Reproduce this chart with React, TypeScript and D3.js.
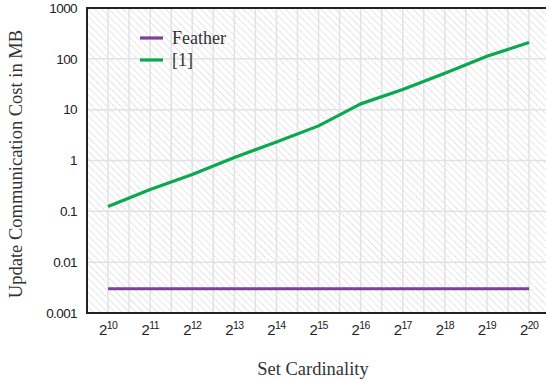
import React from "react";
import * as d3 from "d3";

const exponents = [10, 11, 12, 13, 14, 15, 16, 17, 18, 19, 20];
const featherValues = [0.003, 0.003, 0.003, 0.003, 0.003, 0.003, 0.003, 0.003, 0.003, 0.003, 0.003];
const refValues = [0.125, 0.27, 0.53, 1.15, 2.3, 4.8, 13, 25, 52, 112, 210];
const yTicks = [0.001, 0.01, 0.1, 1, 10, 100, 1000];
const yTickLabels = ["0.001", "0.01", "0.1", "1", "10", "100", "1000"];
const seriesNames = ["Feather", "[1]"];
const seriesColors = ["#7d3f98", "#0aa84f"];

const W = 546, H = 381;
const left = 87, top = 8, bottom = 313, right = 580;

export default function App() {
  const x = d3.scaleLinear().domain([9.5, 9.5 + (right - left) / 42.1]).range([left, right]);
  const y = d3.scaleLog().domain([0.001, 1000]).range([bottom, top]);
  const line = d3.line<number>().x((_, i) => x(exponents[i])).y((v) => y(v));
  const vGrid = d3.range(10, 21.5, 0.5);
  const series = [featherValues, refValues];
  return (
    <div style={{ position: "absolute", left: 0, top: 0, width: W, height: H, overflow: "hidden" }}>
      <svg width={W} height={H} style={{ display: "block", background: "#fff" }}>
        <defs>
          <pattern id="hatch" patternUnits="userSpaceOnUse" width="5" height="5" patternTransform="rotate(-45)">
            <line x1="0" y1="0" x2="0" y2="5" stroke="#c9c9d0" strokeWidth="1.4" strokeDasharray="1.6 1" />
          </pattern>
          <clipPath id="plot"><rect x={left} y={top} width={W - left} height={bottom - top} /></clipPath>
        </defs>
        <rect x={left} y={top} width={W - left} height={bottom - top} fill="#fff" />
        <rect x={left} y={top} width={W - left} height={bottom - top} fill="url(#hatch)" />
        <g clipPath="url(#plot)">
          {vGrid.map((e) => (
            <line key={e} x1={x(e)} x2={x(e)} y1={top} y2={bottom} stroke="#e1e1e8" strokeWidth={1.5} />
          ))}
          {yTicks.map((t) => (
            <line key={t} x1={left} x2={W} y1={y(t)} y2={y(t)} stroke="#e1e1e8" strokeWidth={1.5} />
          ))}
          {series.map((s, i) => (
            <path key={i} d={line(s) || ""} fill="none" stroke={seriesColors[i]} strokeWidth={3.2} strokeLinejoin="round" />
          ))}
        </g>
        <line x1={left} x2={W} y1={top} y2={top} stroke="#222" strokeWidth={2} />
        <line x1={left} x2={W} y1={bottom} y2={bottom} stroke="#222" strokeWidth={2} />
        <line x1={left} x2={left} y1={top - 1} y2={bottom + 1} stroke="#222" strokeWidth={2} />
        {yTicks.map((t, i) => (
          <text key={t} x={77} y={y(t)} dy="0.35em" textAnchor="end" fontFamily="Liberation Sans, Arial, sans-serif" fontSize={13.5} fill="#222" letterSpacing={-0.6}>
            {yTickLabels[i]}
          </text>
        ))}
        {exponents.map((e) => (
          <text key={e} x={x(e)} y={335} textAnchor="middle" fontFamily="Liberation Sans, Arial, sans-serif" fontSize={15} fill="#222" letterSpacing={-0.6}>
            2<tspan fontSize={10.5} dy={-6}>{e}</tspan>
          </text>
        ))}
        <text x={313} y={375} textAnchor="middle" fontFamily="Liberation Serif, DejaVu Serif, serif" fontSize={18.5} fill="#333">
          Set Cardinality
        </text>
        <text transform={`translate(22,164) rotate(-90)`} textAnchor="middle" fontFamily="Liberation Serif, DejaVu Serif, serif" fontSize={18.5} fill="#333">
          Update Communication Cost in MB
        </text>
        {seriesNames.map((n, i) => (
          <g key={n} transform={`translate(140,${38 + i * 22})`}>
            <line x1={0} x2={23} y1={0} y2={0} stroke={seriesColors[i]} strokeWidth={3.2} />
            <text x={32} y={0} dy="0.35em" fontFamily="Liberation Serif, DejaVu Serif, serif" fontSize={18} fill="#333">
              {n}
            </text>
          </g>
        ))}
      </svg>
    </div>
  );
}
